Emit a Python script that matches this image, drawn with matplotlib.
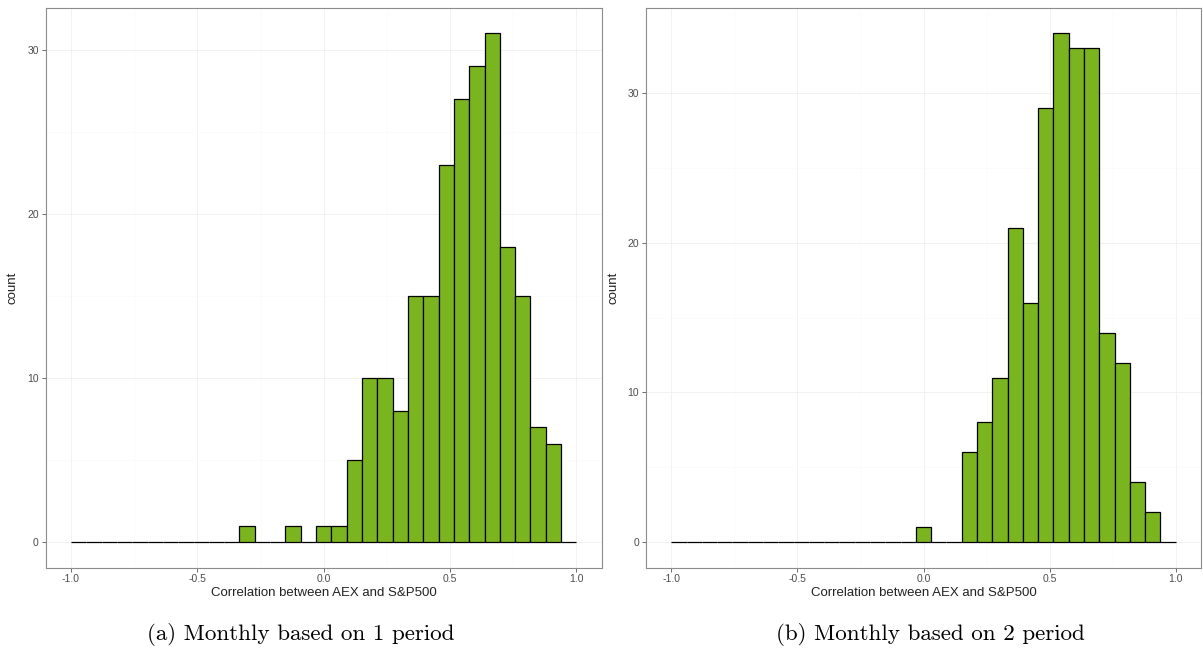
import numpy as np
import matplotlib
matplotlib.use("Agg")
import matplotlib.pyplot as plt

# 33 equal bins from -1 to 1
bin_edges = np.linspace(-1, 1, 34)

counts_1period = [0, 0, 0, 0, 0, 0, 0, 0, 0, 0, 0,
                  1, 0, 0, 1, 0, 1, 1, 5, 10, 10, 8,
                  15, 15, 23, 27, 29, 31, 18, 15, 7, 6, 0]
counts_2period = [0, 0, 0, 0, 0, 0, 0, 0, 0, 0, 0,
                  0, 0, 0, 0, 0, 1, 0, 0, 6, 8, 11,
                  21, 16, 29, 34, 33, 33, 14, 12, 4, 2, 0]

x_ticks = [-1.0, -0.5, 0.0, 0.5, 1.0]
x_label = "Correlation between AEX and S&P500"
captions = ["(a) Monthly based on 1 period", "(b) Monthly based on 2 period"]

W, H = 1203, 653
fig = plt.figure(figsize=(W / 100, H / 100), dpi=100)

panels = [(45.7, 601.7), (646, 1201)]
caption_x = [301, 930]
top_px, bot_px = 8, 567.5

bar_color = "#7AB51F"
sans = ["Liberation Sans", "DejaVu Sans"]

for (x0, x1), counts, cap, cx in zip(panels, [counts_1period, counts_2period],
                                     captions, caption_x):
    ax = fig.add_axes([x0 / W, 1 - bot_px / H, (x1 - x0) / W, (bot_px - top_px) / H])
    widths = np.diff(bin_edges)
    ax.bar(bin_edges[:-1], counts, width=widths, align="edge",
           color=bar_color, edgecolor="black", linewidth=0.9, zorder=3)

    ymax = max(counts)
    ax.set_xlim(-1.1, 1.1)
    ax.set_ylim(-0.05 * ymax, ymax * 1.05)
    ax.set_xticks(x_ticks)
    ax.set_xticklabels([f"{t:.1f}" for t in x_ticks])
    ax.set_yticks(np.arange(0, ymax + 1, 10))
    ax.set_xticks(np.arange(-0.75, 1.0, 0.5), minor=True)
    ax.set_yticks(np.arange(5, ymax, 10), minor=True)

    ax.grid(True, which="major", color="#F0F0F0", linewidth=0.6, zorder=0)
    ax.grid(True, which="minor", color="#F8F8F8", linewidth=0.4, zorder=0)
    ax.tick_params(which="major", length=3, width=0.6, color="#555555",
                   labelsize=7.5, labelcolor="#4D4D4D", pad=2)
    ax.tick_params(which="minor", length=0)
    for lab in ax.get_xticklabels() + ax.get_yticklabels():
        lab.set_family(sans)
    for sp in ax.spines.values():
        sp.set_color("#8C8C8C")
        sp.set_linewidth(0.8)

    ax.set_xlabel(x_label, fontsize=9.5, family=sans, color="#222222", labelpad=2)
    ax.set_ylabel("count", fontsize=9.5, family=sans, color="#222222", labelpad=6)

    fig.text(cx / W, 1 - 634 / H, cap, ha="center", va="center",
             fontsize=16.6, family=["cmr10", "DejaVu Serif"])

fig.savefig("out.png", dpi=100)
